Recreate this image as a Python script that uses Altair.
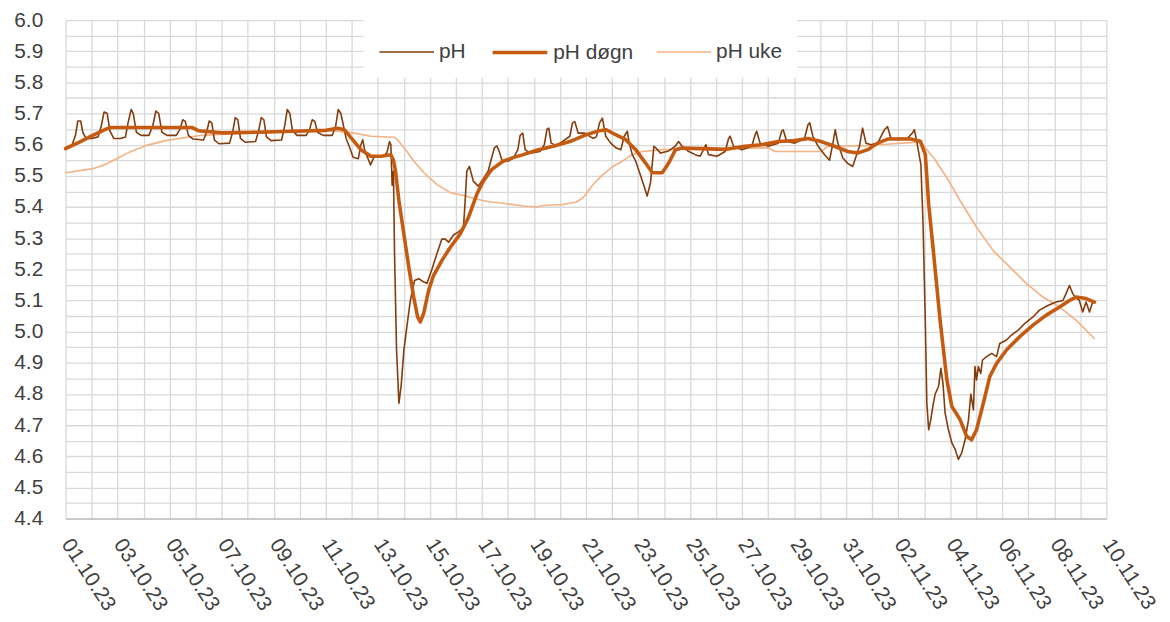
import json
import altair as alt
import pandas as pd

# ---- data (days since 01.10.23 00:00, pH) ----
ph_days = [0.00,0.25,0.38,0.47,0.58,0.66,0.78,1.00,1.25,1.37,1.48,1.60,1.70,1.85,2.10,2.30,2.40,2.52,2.60,2.72,2.90,
           3.20,3.35,3.47,3.58,3.70,3.90,4.25,4.40,4.50,4.60,4.72,4.90,5.30,5.42,5.52,5.62,5.72,5.90,6.30,6.42,6.52,
           6.62,6.72,6.90,7.30,7.42,7.52,7.62,7.72,7.90,8.30,8.42,8.52,8.62,8.72,8.90,9.25,9.38,9.48,9.58,9.68,9.90,
           10.25,10.38,10.48,10.58,10.68,10.78,10.90,11.05,11.25,11.35,11.42,11.50,11.60,11.72,11.85,12.20,12.35,12.45,
           12.50,12.55,12.60,12.64,12.72,12.81,12.90,13.00,13.13,13.25,13.41,13.57,13.75,13.89,13.95,14.08,14.27,14.46,
           14.59,14.72,14.91,15.10,15.29,15.35,15.42,15.52,15.67,15.86,16.05,16.24,16.35,16.48,16.57,16.66,16.77,17.00,
           17.21,17.38,17.47,17.57,17.66,17.85,18.23,18.40,18.50,18.57,18.66,18.87,19.38,19.48,19.57,19.70,19.95,20.27,
           20.40,20.52,20.63,20.76,20.95,21.15,21.34,21.47,21.59,21.66,21.78,21.91,22.10,22.23,22.35,22.48,22.61,22.68,
           22.87,23.18,23.43,23.56,23.69,23.95,24.20,24.39,24.52,24.61,24.71,25.03,25.35,25.48,25.54,25.67,25.99,26.37,
           26.50,26.56,26.69,27.00,27.39,27.52,27.58,27.71,28.02,28.40,28.53,28.60,28.72,28.92,29.17,29.36,29.49,29.58,
           29.68,29.87,30.06,30.25,30.51,30.63,30.76,30.95,31.21,31.47,31.59,31.72,31.97,32.35,32.54,32.62,32.70,32.79,
           32.87,32.95,33.04,33.10,33.17,33.25,33.33,33.42,33.55,33.64,33.72,33.80,33.93,34.06,34.19,34.31,34.44,34.57,
           34.70,34.79,34.89,34.95,35.01,35.08,35.17,35.24,35.40,35.59,35.78,35.90,36.16,36.35,36.61,36.86,37.18,37.43,
           37.75,38.07,38.33,38.45,38.58,38.71,38.81,38.96,39.09,39.22,39.35,39.47]
ph_vals = [5.59,5.60,5.63,5.676,5.676,5.64,5.62,5.62,5.625,5.66,5.705,5.70,5.645,5.62,5.62,5.625,5.67,5.713,5.70,5.64,5.63,
           5.63,5.66,5.708,5.70,5.64,5.63,5.63,5.65,5.68,5.675,5.63,5.618,5.615,5.64,5.676,5.67,5.615,5.603,5.605,5.64,5.687,
           5.68,5.62,5.608,5.61,5.645,5.687,5.68,5.625,5.613,5.615,5.66,5.713,5.70,5.645,5.63,5.63,5.65,5.68,5.675,5.64,5.63,
           5.63,5.66,5.713,5.70,5.66,5.62,5.595,5.56,5.555,5.60,5.616,5.58,5.56,5.535,5.56,5.562,5.575,5.61,
           5.60,5.47,5.515,5.26,4.94,4.77,4.83,4.94,5.025,5.10,5.164,5.17,5.16,5.155,5.17,5.20,5.25,5.297,
           5.297,5.287,5.31,5.32,5.334,5.41,5.515,5.53,5.483,5.467,5.49,5.515,5.55,5.59,5.596,5.58,5.55,5.547,
           5.557,5.584,5.63,5.637,5.584,5.573,5.578,5.60,5.65,5.653,5.605,5.597,5.627,5.67,5.674,5.637,5.637,5.62,
           5.625,5.67,5.685,5.627,5.605,5.59,5.584,5.627,5.643,5.605,5.568,5.547,5.50,5.467,5.435,5.478,5.595,5.59,
           5.573,5.58,5.595,5.61,5.595,5.578,5.568,5.563,5.584,5.60,5.568,5.563,5.578,5.62,5.627,5.595,5.584,5.595,
           5.632,5.643,5.605,5.595,5.605,5.643,5.648,5.611,5.605,5.62,5.664,5.67,5.627,5.595,5.568,5.55,5.605,5.648,
           5.605,5.557,5.54,5.53,5.595,5.653,5.605,5.60,5.605,5.648,5.658,5.62,5.62,5.62,5.637,5.648,5.616,5.574,
           5.537,5.356,5.036,4.77,4.685,4.717,4.76,4.80,4.824,4.882,4.834,4.739,4.685,4.643,4.622,4.59,4.611,4.653,
           4.717,4.80,4.749,4.888,4.845,4.888,4.866,4.909,4.92,4.93,4.92,4.962,4.973,4.989,5.005,5.026,5.047,5.069,
           5.084,5.095,5.10,5.122,5.148,5.122,5.11,5.10,5.063,5.095,5.063,5.095]

dogn_days = [0.00,0.53,1.04,1.55,1.75,4.87,5.10,6.00,7.40,8.70,10.00,10.46,10.71,11.03,11.35,11.73,12.12,12.50,12.60,
             12.68,12.81,13.00,13.19,13.38,13.53,13.63,13.76,13.95,14.14,14.46,14.78,15.16,15.48,15.80,16.05,16.37,
             16.81,17.26,17.59,18.10,18.74,19.38,20.01,20.52,20.78,21.14,21.53,21.91,22.29,22.55,22.93,23.18,23.44,
             23.69,25.40,26.11,26.75,27.39,28.02,28.53,29.04,29.55,30.06,30.44,30.83,31.21,31.59,32.48,32.85,33.04,
             33.17,33.36,33.61,33.87,34.06,34.38,34.63,34.82,35.01,35.27,35.52,35.78,36.16,36.67,37.18,37.69,38.20,
             38.58,38.84,39.22,39.54]
dogn_vals = [5.587,5.608,5.63,5.65,5.655,5.655,5.645,5.638,5.64,5.643,5.646,5.653,5.648,5.616,5.584,5.563,5.563,5.568,5.55,
             5.515,5.42,5.313,5.207,5.11,5.047,5.031,5.058,5.132,5.18,5.228,5.27,5.313,5.366,5.44,5.483,5.52,
             5.547,5.56,5.568,5.582,5.595,5.61,5.632,5.645,5.648,5.632,5.616,5.584,5.541,5.51,5.51,5.541,5.584,
             5.589,5.585,5.595,5.60,5.61,5.613,5.62,5.61,5.595,5.578,5.573,5.584,5.605,5.618,5.618,5.611,5.569,
             5.409,5.25,5.036,4.845,4.76,4.717,4.664,4.653,4.685,4.77,4.856,4.898,4.941,4.984,5.021,5.053,5.079,
             5.10,5.111,5.106,5.095]

uke_days = [0.00,0.80,1.04,1.43,1.94,2.45,3.08,3.85,4.61,5.25,6.14,7.41,8.69,9.96,10.46,11.10,11.73,12.63,12.75,13.01,
            13.39,13.77,14.28,14.79,15.30,15.81,16.32,16.83,17.59,18.10,18.36,19.12,19.63,19.89,20.27,20.65,21.03,
            21.40,21.78,22.16,22.93,27.00,27.26,29.04,29.30,30.80,31.21,31.83,32.85,33.36,33.87,34.38,35.01,35.65,
            36.29,36.93,37.56,38.20,38.84,39.54]
uke_vals = [5.51,5.52,5.523,5.533,5.554,5.576,5.597,5.613,5.623,5.63,5.634,5.638,5.642,5.645,5.643,5.637,5.627,5.624,5.616,5.59,
            5.547,5.51,5.472,5.446,5.437,5.425,5.416,5.412,5.403,5.40,5.405,5.408,5.416,5.43,5.472,5.504,5.53,
            5.547,5.568,5.578,5.584,5.59,5.578,5.578,5.595,5.597,5.60,5.603,5.609,5.558,5.494,5.42,5.335,5.26,
            5.207,5.154,5.111,5.079,5.036,4.978]

series_names = ["pH", "pH døgn", "pH uke"]
series_colors = ["#843C0C", "#C55A11", "#F4B183"]
series_widths = [1.6, 3.6, 1.6]

x_tick_labels = ["01.10.23","03.10.23","05.10.23","07.10.23","09.10.23","11.10.23","13.10.23","15.10.23",
                 "17.10.23","19.10.23","21.10.23","23.10.23","25.10.23","27.10.23","29.10.23","31.10.23",
                 "02.11.23","04.11.23","06.11.23","08.11.23","10.11.23"]

# ---- table ----
frames = []
for name, d, v in [("pH", ph_days, ph_vals), ("pH døgn", dogn_days, dogn_vals), ("pH uke", uke_days, uke_vals)]:
    frames.append(pd.DataFrame({"day": d, "value": v, "series": name}))
df = pd.concat(frames, ignore_index=True)

x_values = list(range(41))
y_values = [round(4.4 + 0.05 * i, 2) for i in range(33)]

x_label_expr = "datum.value % 2 == 0 ? " + json.dumps(x_tick_labels) + "[datum.value / 2] : ''"
y_label_expr = "round(datum.value * 100) % 10 == 0 ? format(datum.value, '.1f') : ''"

FONT = "Liberation Sans"

x_enc = alt.X("day:Q",
              scale=alt.Scale(domain=[0, 40], nice=False, zero=False),
              axis=alt.Axis(values=x_values, labelExpr=x_label_expr, title=None, grid=True,
                            gridColor="#D9D9D9", gridWidth=1.3, ticks=False, domain=True,
                            domainColor="#BFBFBF", domainWidth=1.5,
                            labelAngle=57, labelAlign="left", labelBaseline="middle", labelPadding=22,
                            labelFont=FONT, labelFontSize=21, labelColor="#404040",
                            labelOverlap=False, labelFlush=False, labelBound=False))
y_enc = alt.Y("value:Q",
              scale=alt.Scale(domain=[4.4, 6.0], nice=False, zero=False),
              axis=alt.Axis(values=y_values, labelExpr=y_label_expr, title=None, grid=True,
                            gridColor="#D9D9D9", gridWidth=1.3, ticks=False, domain=False,
                            labelPadding=23, labelFont=FONT, labelFontSize=21, labelColor="#404040",
                            labelOverlap=False, labelFlush=False, labelBound=False))

legend_kw = dict(title=None, orient="none", legendX=300, legendY=-12,
                 direction="horizontal", fillColor="white", padding=15,
                 symbolType="stroke", symbolSize=3025, labelOffset=4,
                 columnPadding=19, labelFont=FONT, labelFontSize=21, labelColor="#404040")

color_enc = alt.Color("series:N",
                      scale=alt.Scale(domain=series_names, range=series_colors),
                      legend=alt.Legend(**legend_kw))
width_enc = alt.StrokeWidth("series:N",
                            scale=alt.Scale(type="ordinal", domain=series_names, range=series_widths),
                            legend=alt.Legend(**legend_kw))

base = alt.Chart(df).mark_line(strokeJoin="round", strokeCap="round").encode(
    x=x_enc, y=y_enc, color=color_enc, strokeWidth=width_enc, detail="series:N"
)

layers = [base.transform_filter(alt.datum.series == s) for s in ["pH uke", "pH", "pH døgn"]]

chart = alt.layer(*layers).properties(
    width=1048, height=502,
    autosize=alt.AutoSizeParams(type="none"),
    padding={"left": 58, "top": 10, "right": 56, "bottom": 102},
).configure_view(strokeWidth=0)

chart.save("out.html", embed_options={"renderer": "svg", "actions": False})
